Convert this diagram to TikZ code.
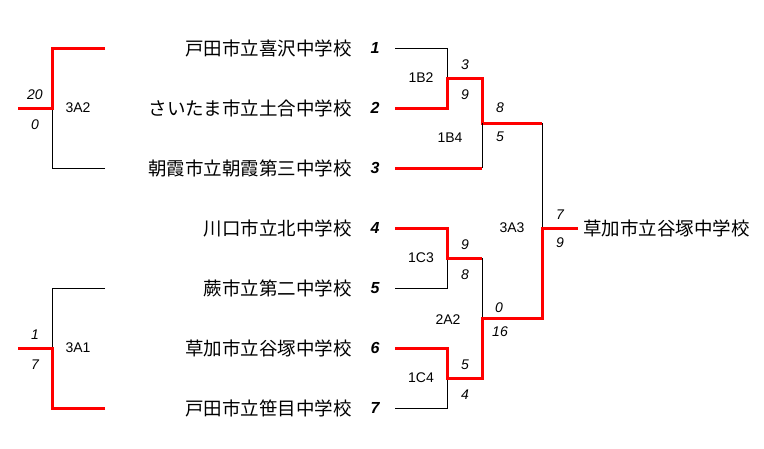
\documentclass[tikz,border=0pt]{standalone}
\usepackage{fontspec}
\setmainfont{Liberation Sans}
\newfontfamily\jp{Noto Sans CJK JP}
\begin{document}
\begin{tikzpicture}[x=1pt,y=-1pt,
  win/.style={draw=red,line width=3pt},
  lose/.style={draw=black,line width=1pt},
  team/.style={anchor=east,inner sep=0,font=\jp\fontsize{18.5}{20}\selectfont},
  seed/.style={inner sep=0,font=\bfseries\itshape\fontsize{16}{18}\selectfont},
  score/.style={inner sep=0,font=\itshape\fontsize{14}{16}\selectfont},
  lab/.style={inner sep=0,font=\fontsize{14}{16}\selectfont}]
\useasboundingbox (0,0) rectangle (764,448);
\foreach \i/\t/\y in {1/戸田市立喜沢中学校/48,2/さいたま市立土合中学校/108,3/朝霞市立朝霞第三中学校/168,4/川口市立北中学校/228,5/蕨市立第二中学校/288,6/草加市立谷塚中学校/348,7/戸田市立笹目中学校/408}{
  \node[team] (t\i) at (352,\y) {\t};
  \node[seed] (s\i) at (375,\y) {\i};
  \coordinate (r\i) at (395,\y);
  \coordinate (l\i) at (105,\y);
}
\node[team,anchor=west] (champ) at (583,228) {草加市立谷塚中学校};
% left brackets
\draw[lose] (l3) -- (52,168) -- (52,108);
\draw[win] (l1) -- (52,48) -- (52,108) -- (18,108);
\draw[lose] (l5) -- (52,288) -- (52,348);
\draw[win] (l7) -- (52,408) -- (52,348) -- (18,348);
% right side
\draw[lose] (r1) -- (447,48) -- (447,78);
\draw[win] (r2) -- (447,108) -- (447,78) -- (482,78) -- (482,123) -- (542,123);
\draw[lose] (482,123) -- (482,168);
\draw[win] (r3) -- (482,168);
\draw[lose] (542,123) -- (542,228);
\draw[lose] (r5) -- (447,288) -- (447,258);
\draw[win] (r4) -- (447,228) -- (447,258) -- (482,258);
\draw[lose] (482,258) -- (482,318);
\draw[lose] (r7) -- (447,408) -- (447,378);
\draw[win] (r6) -- (447,348) -- (447,378) -- (482,378) -- (482,318) -- (542,318) -- (542,228) -- (578,228);
% labels
\node[lab] at (78,108) {3A2};
\node[lab] at (78,348) {3A1};
\node[lab] at (421,78) {1B2};
\node[lab] at (450,138) {1B4};
\node[lab] at (512,228) {3A3};
\node[lab] at (421,258) {1C3};
\node[lab] at (448,320) {2A2};
\node[lab] at (421,378) {1C4};
% scores
\foreach \x/\y/\s in {35/95/20,35/125/0,35/335/1,35/365/7,465/65/3,465/95/9,500/108/8,500/137/5,560/215/7,560/243/9,465/245/9,465/275/8,499/308/0,500/332/16,465/365/5,465/395/4}
  \node[score] at (\x,\y) {\s};
\end{tikzpicture}
\end{document}
